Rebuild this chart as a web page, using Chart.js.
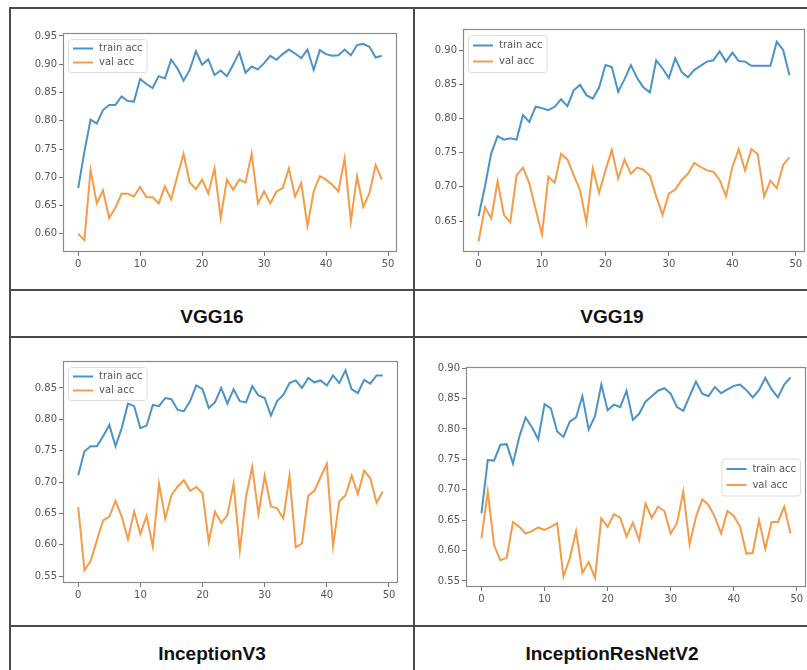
<!DOCTYPE html>
<html>
<head>
<meta charset="utf-8">
<script src="https://cdn.jsdelivr.net/npm/chart.js"></script>
<style>
  body { margin: 0; background: #fff; }
  #page { position: relative; width: 807px; height: 670px; overflow: hidden; }
  .line { position: absolute; background: #4a4a4a; }
  canvas { position: absolute; }
  .label { position: absolute; width: 400px; text-align: center; font: bold 19px "Liberation Sans", Arial, sans-serif; color: #111; line-height: 20px; }
</style>
</head>
<body>
<div id="page">
  <div class="line" style="left:9px;top:7px;width:798px;height:2px"></div>
  <div class="line" style="left:9px;top:289px;width:798px;height:2px"></div>
  <div class="line" style="left:9px;top:336px;width:798px;height:2px"></div>
  <div class="line" style="left:9px;top:625px;width:798px;height:2px"></div>
  <div class="line" style="left:9px;top:7px;width:2px;height:663px"></div>
  <div class="line" style="left:413px;top:7px;width:2px;height:663px"></div>

  <canvas id="c1" width="402" height="280" style="left:11px;top:9px"></canvas>
  <canvas id="c2" width="392" height="280" style="left:415px;top:9px"></canvas>
  <canvas id="c3" width="402" height="287" style="left:11px;top:338px"></canvas>
  <canvas id="c4" width="392" height="287" style="left:415px;top:338px"></canvas>

  <div class="label" style="left:12px;top:307px">VGG16</div>
  <div class="label" style="left:412px;top:307px">VGG19</div>
  <div class="label" style="left:12px;top:644px">InceptionV3</div>
  <div class="label" style="left:412px;top:644px">InceptionResNetV2</div>
</div>
<script>
const epochs = Array.from({ length: 50 }, (_, i) => i);
const xTicks = [0, 10, 20, 30, 40, 50];

const vgg16Train = [0.681, 0.745, 0.802, 0.795, 0.819, 0.828, 0.828, 0.843, 0.835, 0.834,
  0.874, 0.865, 0.858, 0.879, 0.875, 0.908, 0.893, 0.871, 0.890, 0.923,
  0.899, 0.909, 0.881, 0.889, 0.879, 0.899, 0.921, 0.885, 0.896, 0.891,
  0.902, 0.915, 0.908, 0.918, 0.926, 0.919, 0.911, 0.926, 0.890, 0.925,
  0.918, 0.915, 0.916, 0.926, 0.916, 0.934, 0.936, 0.931, 0.912, 0.915];
const vgg16Val = [0.600, 0.589, 0.713, 0.654, 0.677, 0.628, 0.646, 0.671, 0.671, 0.666,
  0.683, 0.665, 0.665, 0.654, 0.684, 0.661, 0.702, 0.742, 0.691, 0.679,
  0.696, 0.671, 0.716, 0.628, 0.696, 0.678, 0.696, 0.691, 0.742, 0.654,
  0.675, 0.654, 0.675, 0.681, 0.716, 0.666, 0.690, 0.614, 0.675, 0.702,
  0.696, 0.687, 0.675, 0.734, 0.622, 0.702, 0.648, 0.672, 0.722, 0.696];
const vgg16Ticks = [0.60, 0.65, 0.70, 0.75, 0.80, 0.85, 0.90, 0.95];

const vgg19Train = [0.657, 0.700, 0.749, 0.774, 0.769, 0.771, 0.769, 0.805, 0.795, 0.817,
  0.815, 0.812, 0.817, 0.828, 0.818, 0.841, 0.849, 0.834, 0.829, 0.845,
  0.878, 0.875, 0.839, 0.857, 0.878, 0.859, 0.845, 0.838, 0.885, 0.873,
  0.859, 0.888, 0.868, 0.860, 0.871, 0.877, 0.883, 0.885, 0.898, 0.883,
  0.896, 0.884, 0.883, 0.877, 0.877, 0.877, 0.877, 0.912, 0.900, 0.863];
const vgg19Val = [0.620, 0.670, 0.654, 0.708, 0.659, 0.648, 0.717, 0.728, 0.705, 0.667,
  0.630, 0.715, 0.706, 0.748, 0.740, 0.717, 0.695, 0.648, 0.727, 0.691,
  0.724, 0.754, 0.712, 0.740, 0.719, 0.728, 0.725, 0.716, 0.686, 0.659,
  0.690, 0.696, 0.710, 0.719, 0.735, 0.729, 0.724, 0.722, 0.710, 0.686,
  0.729, 0.755, 0.724, 0.755, 0.748, 0.686, 0.709, 0.698, 0.732, 0.743];
const vgg19Ticks = [0.65, 0.70, 0.75, 0.80, 0.85, 0.90];

const incV3Train = [0.711, 0.749, 0.757, 0.757, 0.773, 0.791, 0.757, 0.786, 0.825, 0.821,
  0.786, 0.790, 0.823, 0.821, 0.834, 0.832, 0.815, 0.813, 0.829, 0.854,
  0.848, 0.818, 0.827, 0.850, 0.825, 0.848, 0.829, 0.827, 0.853, 0.838,
  0.834, 0.806, 0.829, 0.839, 0.858, 0.862, 0.850, 0.866, 0.859, 0.862,
  0.854, 0.870, 0.858, 0.878, 0.848, 0.842, 0.863, 0.857, 0.870, 0.870];
const incV3Val = [0.660, 0.559, 0.574, 0.607, 0.639, 0.645, 0.670, 0.645, 0.609, 0.653,
  0.617, 0.646, 0.597, 0.697, 0.642, 0.679, 0.693, 0.703, 0.686, 0.692,
  0.682, 0.605, 0.653, 0.635, 0.647, 0.697, 0.591, 0.677, 0.724, 0.649,
  0.710, 0.661, 0.658, 0.642, 0.710, 0.596, 0.602, 0.678, 0.686, 0.708,
  0.729, 0.598, 0.669, 0.679, 0.710, 0.681, 0.718, 0.706, 0.667, 0.685];
const incV3Ticks = [0.55, 0.60, 0.65, 0.70, 0.75, 0.80, 0.85];

const incResTrain = [0.661, 0.749, 0.748, 0.774, 0.775, 0.743, 0.787, 0.819, 0.803, 0.783,
  0.841, 0.834, 0.796, 0.787, 0.812, 0.819, 0.854, 0.799, 0.821, 0.873,
  0.831, 0.840, 0.836, 0.863, 0.815, 0.825, 0.845, 0.854, 0.863, 0.867,
  0.858, 0.836, 0.830, 0.854, 0.878, 0.858, 0.854, 0.869, 0.859, 0.865,
  0.871, 0.873, 0.864, 0.852, 0.864, 0.884, 0.865, 0.852, 0.873, 0.885];
const incResVal = [0.620, 0.697, 0.609, 0.584, 0.588, 0.647, 0.639, 0.628, 0.632, 0.638,
  0.634, 0.639, 0.645, 0.557, 0.587, 0.632, 0.563, 0.581, 0.555, 0.653,
  0.639, 0.660, 0.654, 0.623, 0.646, 0.617, 0.677, 0.654, 0.672, 0.665,
  0.628, 0.645, 0.697, 0.610, 0.655, 0.684, 0.675, 0.655, 0.628, 0.665,
  0.657, 0.639, 0.595, 0.596, 0.650, 0.603, 0.647, 0.647, 0.672, 0.628];
const incResTicks = [0.55, 0.60, 0.65, 0.70, 0.75, 0.80, 0.85, 0.90];

const blue = '#4b93c6';
const orange = '#f49c48';
const tickFont = { family: 'DejaVu Sans', size: 10 };

// frame round the plot, like matplotlib spines
const framePlugin = {
  id: 'frame',
  afterDraw(chart) {
    const a = chart.chartArea;
    const ctx = chart.ctx;
    ctx.save();
    ctx.strokeStyle = '#8a8a8a';
    ctx.lineWidth = 1.2;
    ctx.strokeRect(a.left + 0.5, a.top + 0.5, a.right - a.left - 1, a.bottom - a.top - 1);
    ctx.restore();
  }
};

// legend box inside the plot
const boxLegend = {
  id: 'boxLegend',
  afterDraw(chart, args, opts) {
    const a = chart.chartArea;
    const ctx = chart.ctx;
    const sets = chart.data.datasets;
    ctx.save();
    ctx.font = '10px "DejaVu Sans"';
    const textW = Math.max(...sets.map(d => ctx.measureText(d.label).width));
    const rowH = opts.rowH || 14;
    const w = 5 + 20 + 6 + textW + 4;
    const h = sets.length * rowH + 5;
    let x, y;
    if (opts.loc === 'center right') {
      x = a.right - 6 - w;
      y = (a.top + a.bottom) / 2 - h / 2;
    } else {
      x = a.left + 5;
      y = a.top + 6;
    }
    ctx.beginPath();
    ctx.roundRect(x + 0.5, y + 0.5, w, h, 3);
    ctx.fillStyle = 'rgba(255,255,255,0.85)';
    ctx.fill();
    ctx.strokeStyle = '#dcdcdc';
    ctx.lineWidth = 1;
    ctx.stroke();
    sets.forEach((d, i) => {
      const cy = y + 2.5 + rowH * (i + 0.5);
      ctx.beginPath();
      ctx.moveTo(x + 5, cy);
      ctx.lineTo(x + 25, cy);
      ctx.strokeStyle = d.borderColor;
      ctx.lineWidth = 2;
      ctx.stroke();
      ctx.fillStyle = '#555';
      ctx.textBaseline = 'middle';
      ctx.fillText(d.label, x + 31, cy);
    });
    ctx.restore();
  }
};

function makeChart(id, train, val, yTicks, yMin, yMax, pad, legend) {
  return new Chart(document.getElementById(id), {
    type: 'line',
    data: {
      datasets: [
        { label: 'train acc', data: epochs.map(i => ({ x: i, y: train[i] })), borderColor: blue, borderWidth: 2, pointRadius: 0, tension: 0 },
        { label: 'val acc', data: epochs.map(i => ({ x: i, y: val[i] })), borderColor: orange, borderWidth: 2, pointRadius: 0, tension: 0 }
      ]
    },
    options: {
      responsive: false,
      animation: false,
      layout: { padding: pad },
      plugins: {
        legend: { display: false },
        tooltip: { enabled: false },
        boxLegend: legend
      },
      scales: {
        x: {
          type: 'linear',
          min: -2.45,
          max: 51.45,
          afterBuildTicks: s => { s.ticks = xTicks.map(v => ({ value: v })); },
          afterFit: s => { s.height = 22; },
          ticks: { font: tickFont, color: '#555', padding: 2, maxRotation: 0, callback: v => v },
          grid: { drawOnChartArea: false, tickLength: 4, color: '#777' },
          border: { display: false }
        },
        y: {
          min: yMin,
          max: yMax,
          afterBuildTicks: s => { s.ticks = yTicks.map(v => ({ value: v })); },
          afterFit: s => { s.width = 40; },
          ticks: { font: tickFont, color: '#555', padding: 2, callback: v => v.toFixed(2) },
          grid: { drawOnChartArea: false, tickLength: 4, color: '#777' },
          border: { display: false }
        }
      }
    },
    plugins: [framePlugin, boxLegend]
  });
}

// cell c1 at (11,9) 402x280 -> plot 63..397, 33..252
makeChart('c1', vgg16Train, vgg16Val, vgg16Ticks, 0.568, 0.9553,
  { left: 12, top: 24, right: 16, bottom: 15 }, { loc: 'upper left', rowH: 14 });
// cell c2 at (415,9) 392x280 -> plot 463..805, 29..252
makeChart('c2', vgg19Train, vgg19Val, vgg19Ticks, 0.6047, 0.9307,
  { left: 8, top: 20, right: 2, bottom: 15 }, { loc: 'upper left', rowH: 16 });
// cell c3 at (11,338) 402x287 -> plot 63..398, 361..583
makeChart('c3', incV3Train, incV3Val, incV3Ticks, 0.539, 0.893,
  { left: 12, top: 23, right: 15, bottom: 20 }, { loc: 'upper left', rowH: 14 });
// cell c4 at (415,338) 392x287 -> plot 466..806, 367..587
makeChart('c4', incResTrain, incResVal, incResTicks, 0.540, 0.902,
  { left: 11, top: 29, right: 1, bottom: 16 }, { loc: 'center right', rowH: 16 });
</script>
</body>
</html>
